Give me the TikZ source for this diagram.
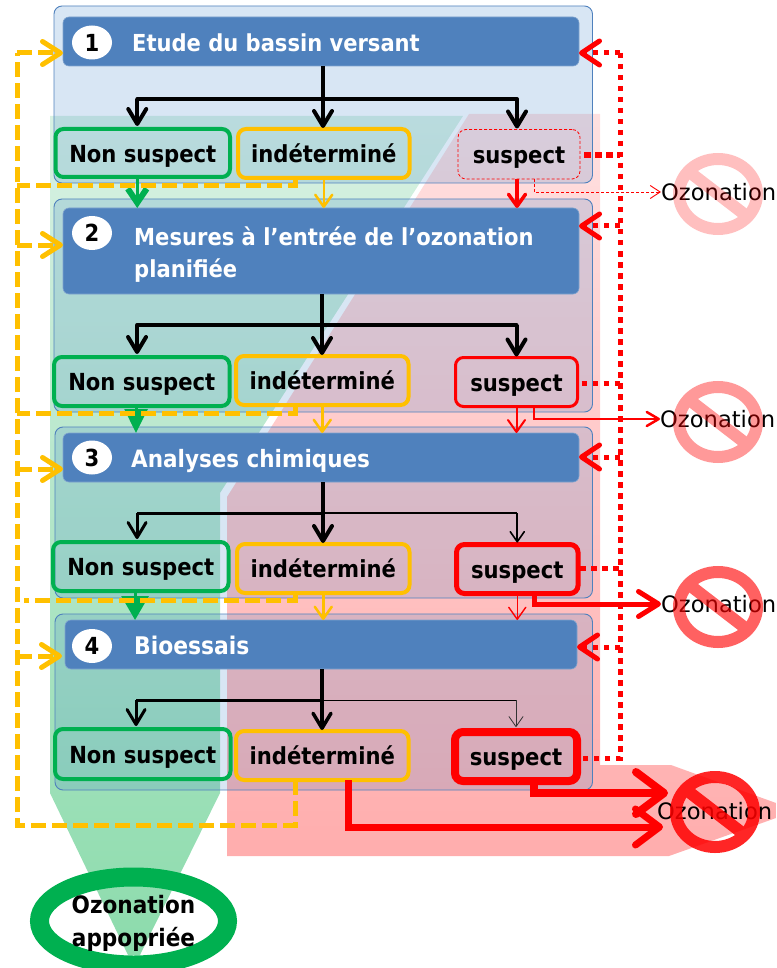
\documentclass[tikz,border=0pt]{standalone}
\usepackage{fontspec}
\setmainfont{DejaVu Sans Condensed}
\newfontfamily\ozfont{DejaVu Sans}
\usetikzlibrary{arrows.meta,shapes.geometric}
\definecolor{hblue}{HTML}{4F81BD}
\definecolor{pfill}{HTML}{4F8DCD}
\definecolor{hedge}{HTML}{7FA3CE}
\definecolor{gok}{HTML}{00B050}
\definecolor{yel}{HTML}{FFC000}
\definecolor{rd}{HTML}{FF0000}
\definecolor{gtop}{HTML}{D8F1E3}
\definecolor{gbot}{HTML}{8CDBAC}
\newcommand\pnode[7]{%
  \pgfmathsetmacro\pcx{(#3+#5)/2}\pgfmathsetmacro\pcy{(#4+#6)/2}%
  \pgfmathsetmacro\prw{abs(#5-#3)}\pgfmathsetmacro\prh{abs(#6-#4)}%
  \node[#1,minimum width=\prw pt,minimum height=\prh pt] (#2) at (\pcx,\pcy) {#7};}
\tikzset{
  panel/.style={draw=hblue,line width=0.9pt,fill=pfill,fill opacity=.22,rounded corners=8pt,outer sep=0pt,inner sep=0pt},
  head/.style={draw=hedge,line width=0.6pt,fill=hblue,rounded corners=6pt,outer sep=0pt,inner sep=0pt},
  numc/.style={ellipse,fill=white,minimum width=40pt,minimum height=34pt,inner sep=0pt,font=\fontsize{23.5}{23}\selectfont\bfseries},
  htext/.style={anchor=base west,inner sep=0pt,text=white,font=\fontsize{#1}{33}\selectfont\bfseries,align=left},
  status/.style={rounded corners=8pt,outer sep=0pt,inner sep=0pt,text=black,text height=20pt,text depth=1.4pt,font=\fontsize{23.5}{24}\selectfont\bfseries},
  nonbox/.style={status,draw=gok,line width=#1},
  indbox/.style={status,draw=yel,line width=#1},
  susbox/.style={status,draw=rd,line width=#1},
  tree/.style={black,line width=#1,-{Straight Barb[length=15pt,width=18pt,round]},shorten >=1pt},
  treeln/.style={black,line width=#1},
  ydash/.style={yel,line width=5pt,dash pattern=on 15pt off 6pt},
  ytip/.style={yel,line width=5pt,dash pattern=on 15pt off 6pt,-{Straight Barb[length=18pt,width=23pt,round]}},
  rdot/.style={rd,line width=5pt,dash pattern=on 5.5pt off 5.5pt},
  rtip/.style={rd,line width=5pt,dash pattern=on 5.5pt off 5.5pt,-{Straight Barb[length=18pt,width=24pt,round]}},
  downy/.style={yel,line width=2.5pt,-{Straight Barb[length=12pt,width=17pt,round]}},
  downr/.style={rd,line width=#1,-{Straight Barb[length=12pt,width=17pt,round]}},
  downg/.style={gok,line width=3pt,-{Triangle[length=24pt,width=#1]}},
  ozt/.style={anchor=west,inner sep=0pt,font=\ozfont\fontsize{22.6}{24}\selectfont,text=black},
  signc/.style={ellipse,draw=rd,line width=12pt,minimum width=78pt,minimum height=70pt,inner sep=0pt,outer sep=0pt},
}
\begin{document}
\begin{tikzpicture}[x=1pt,y=-1pt]
\path[use as bounding box,clip] (0,0) rectangle (776,968);
% background bands
\shade[top color=red!12!white,bottom color=red!32!white,draw=none]
  (469,114) -- (600,114) -- (600,765) -- (671,765) -- (776,803) -- (776,818) -- (669,856) -- (227,856) -- (227,497) -- cycle;
\shade[top color=gtop,bottom color=gbot,draw=none]
  (50,116) -- (463,116) -- (220,493) -- (220,793) -- (140,955) -- (128,955) -- (50,793) -- cycle;
% panels
\pnode{panel}{p1}{54}{6}{592.5}{183}{}
\pnode{panel}{p2}{54}{199}{592.5}{412}{}
\pnode{panel}{p3}{55}{427}{592.5}{598}{}
\pnode{panel}{p4}{55}{614}{592.5}{790}{}
% headers
\pnode{head}{h1}{63}{17}{579}{66}{}
\pnode{head}{h2}{63}{208}{579}{294}{}
\pnode{head}{h3}{63}{433}{579}{482}{}
\pnode{head}{h4}{65}{620}{577}{669}{}
\node[numc] (c1) at (92,42.5) {1};
\node[numc] (c2) at (92,233) {2};
\node[numc] (c3) at (92,457.5) {3};
\node[numc] (c4) at (92,646) {4};
\node[htext=23.4] (t1) at (132,52) {Etude du bassin versant};
\node[htext=23.45] (t2) at (134,245) {Mesures à l’entrée de l’ozonation};
\node[htext=23.45] (t2b) at (134,277.5) {planifiée};
\node[htext=23.9] (t3) at (131,467) {Analyses chimiques};
\node[htext=24.3] (t4) at (134,654) {Bioessais};
% status boxes
\pnode{nonbox=4pt}{n1}{55.5}{129}{230}{177}{Non suspect}
\pnode{indbox=4pt}{i1}{238}{129}{409.5}{178}{indéterminé}
\pnode{status,draw=rd,line width=0.8pt,densely dashed}{s1}{458}{129.5}{580}{179}{suspect}
\pnode{nonbox=4pt}{n2}{54}{357}{229.5}{406}{Non suspect}
\pnode{indbox=4pt}{i2}{236}{356}{408.5}{405}{indéterminé}
\pnode{susbox=3pt}{s2}{455.5}{357.5}{577.5}{406.5}{suspect}
\pnode{nonbox=4pt}{n3}{53}{542}{228.5}{591}{Non suspect}
\pnode{indbox=4pt}{i3}{237}{544}{409.5}{593}{indéterminé}
\pnode{susbox=5pt}{s3}{456.5}{544.5}{578}{593.5}{suspect}
\pnode{nonbox=4pt}{n4}{55}{729}{230.5}{779}{Non suspect}
\pnode{indbox=4pt}{i4}{236}{731}{408.5}{780}{indéterminé}
\pnode{susbox=8pt}{s4}{455}{732}{577}{781}{suspect}
\coordinate (j1) at (323,99);
\coordinate (j2) at (322,325);
\coordinate (j3) at (323,513);
\coordinate (j4) at (322,700);
% tree 1
\draw[treeln=4pt,line cap=round] ([xshift=-5.5pt]n1.north |- j1) -- ([xshift=-2pt]s1.north |- j1);
\draw[tree=4pt] (h1.south -| j1) -- (i1.north -| j1);
\draw[tree=4pt] ([xshift=-5.5pt]n1.north |- j1) -- ([xshift=-5.5pt,yshift=2pt]n1.north);
\draw[tree=4pt] ([xshift=-2pt]s1.north |- j1) -- ([xshift=-2pt]s1.north);
% tree 2
\draw[treeln=4pt,line cap=round] ([xshift=-4.7pt]n2.north |- j2) -- (s2.north |- j2);
\draw[tree=4pt] (h2.south -| j2) -- (i2.north -| j2);
\draw[tree=4pt] ([xshift=-4.7pt]n2.north |- j2) -- ([xshift=-4.7pt,yshift=2pt]n2.north);
\draw[tree=4pt] (s2.north |- j2) -- (s2.north);
% tree 3
\draw[treeln=3pt] ([xshift=-3.7pt]n3.north |- j3) -- (j3);
\draw[treeln=1.6pt] (j3) -- (s3.north |- j3);
\draw[tree=4pt] (h3.south -| j3) -- (i3.north -| j3);
\draw[tree=3pt] ([xshift=-3.7pt]n3.north |- j3) -- ([xshift=-3.7pt,yshift=2pt]n3.north);
\draw[black,line width=1.6pt,-{Straight Barb[length=10pt,width=14pt,round]}] (s3.north |- j3) -- ([yshift=2pt]s3.north);
% tree 4
\draw[treeln=3pt] ([xshift=-6.7pt]n4.north |- j4) -- (j4);
\draw[treeln=.8pt] (j4) -- (s4.north |- j4);
\draw[tree=3.5pt] (h4.south -| j4) -- (i4.north -| j4);
\draw[tree=3pt] ([xshift=-6.7pt]n4.north |- j4) -- ([xshift=-6.7pt,yshift=2pt]n4.north);
\draw[black!80,line width=.8pt,-{Straight Barb[length=10pt,width=14pt,round]}] (s4.north |- j4) -- ([yshift=5pt]s4.north);
% downward arrows
\draw[gok,line width=3pt,-{Straight Barb[length=14pt,width=19pt,line width=6pt]}] ([xshift=-5.5pt]n1.south) -- ([xshift=-5.5pt]n1.south |- h2.north);
\draw[downg=23pt] ([xshift=-5.7pt]n2.south) -- ([xshift=-5.7pt]n2.south |- h3.north);
\draw[downg=27pt] ([xshift=-5.7pt]n3.south) -- ([xshift=-5.7pt]n3.south |- h4.north);
\draw[downy] (i1.south) -- (i1.south |- h2.north);
\draw[downy] (i2.south) -- (i2.south |- h3.north);
\draw[downy] (i3.south) -- (i3.south |- h4.north);
\draw[downr=3.5pt] ([xshift=-2pt]s1.south) -- ([xshift=-2pt]s1.south |- h2.north);
\draw[downr=2pt] (s2.south) -- (s2.south |- h3.north);
\draw[downr=1.4pt] (s3.south) -- (s3.south |- h4.north);
% feedback, yellow
\coordinate (yt1) at (17,53);
\coordinate (yb) at (295,825);
\coordinate (yl) at (17,825);
\draw[ydash] (i4.south -| yb) -- (yb) -- (yl) -- (yt1);
\draw[ytip] (yt1) -- (h1.west |- yt1);
\draw[ytip] (17,245) -- (h2.west |- 17,245);
\draw[ytip] (17,469) -- (h3.west |- 17,469);
\draw[ytip] (17,656) -- ([xshift=-3pt]h4.west |- 17,656);
\draw[ydash] (i1.south -| yb) |- (17,186);
\draw[ydash] (i2.south -| yb) |- (17,413);
\draw[ydash] (i3.south -| yb) |- (24,600);
% feedback, red
\coordinate (rt) at (620,53);
\coordinate (rb) at (620,758);
\draw[rdot] (rt) -- (rb) -- ([xshift=4pt]s4.east |- rb);
\draw[rtip] (rt) -- (h1.east |- rt);
\draw[rtip] (620,226) -- (h2.east |- 620,226);
\draw[rtip] (620,457) -- (h3.east |- 620,457);
\draw[rtip] (620,647) -- (h4.east |- 620,647);
\draw[rd,line width=6pt,dash pattern=on 7pt off 4pt] ([xshift=4pt]s1.east |- 620,155) -- (620,155);
\draw[rdot] ([xshift=4pt]s2.east |- 620,383) -- (620,383);
\draw[rdot] ([xshift=2pt]s3.east |- 620,568) -- (620,568);
% ozonation
\node[ozt] (o1) at (661,192) {Ozonation};
\node[ozt] (o2) at (660,419) {Ozonation};
\node[ozt] (o3) at (661,604) {Ozonation};
\node[ozt] (o4) at (657,811) {Ozonation};
\draw[rd,line width=.9pt,densely dashed,-{Straight Barb[length=10pt,width=13pt]}] ([xshift=15pt]s1.south) |- (o1.west);
\draw[rd,line width=2.5pt,-{Straight Barb[length=12pt,width=14pt,round]}] ([xshift=17.5pt]s2.south) |- (o2.west);
\draw[rd,line width=5pt,-{Straight Barb[length=20pt,width=25pt,round]}] ([xshift=16.8pt]s3.south) |- (o3.west);
\draw[rd,line width=8pt,-{Straight Barb[length=28pt,width=42pt,round]}] ([xshift=18pt]s4.south) |- ([xshift=11pt,yshift=18pt]o4.west);
\draw[rd,line width=7pt,-{Straight Barb[length=24pt,width=36pt,round]}] ([xshift=25.8pt]i4.south) |- ([xshift=6pt,yshift=-16pt]o4.west);
% no-entry signs
\begin{scope}[transparency group,opacity=.25]
\node[signc] (x1) at (718,194) {};
\draw[rd,line width=12pt] ([shift={(-26,-20)}]x1.center) -- ([shift={(26,20)}]x1.center);
\end{scope}
\begin{scope}[transparency group,opacity=.4]
\node[signc] (x2) at (718,422) {};
\draw[rd,line width=12pt] ([shift={(-26,-20)}]x2.center) -- ([shift={(26,20)}]x2.center);
\end{scope}
\begin{scope}[transparency group,opacity=.62]
\node[signc] (x3) at (718,607) {};
\draw[rd,line width=12pt] ([shift={(-26,-20)}]x3.center) -- ([shift={(26,20)}]x3.center);
\end{scope}
\begin{scope}[transparency group,opacity=.85]
\node[signc] (x4) at (715,812) {};
\draw[rd,line width=12pt] ([shift={(-26,-20)}]x4.center) -- ([shift={(26,20)}]x4.center);
\end{scope}
% result
\node[ellipse,draw=gok,line width=19pt,minimum width=188pt,minimum height=88pt,inner sep=0pt,outer sep=0pt] (r) at (133.5,921) {};
\node[align=center,inner sep=0pt,text=black,font=\fontsize{24}{33}\selectfont\bfseries] (rt) at (r.center) [yshift=-2.5pt] {Ozonation\\appopriée};
\end{tikzpicture}
\end{document}
